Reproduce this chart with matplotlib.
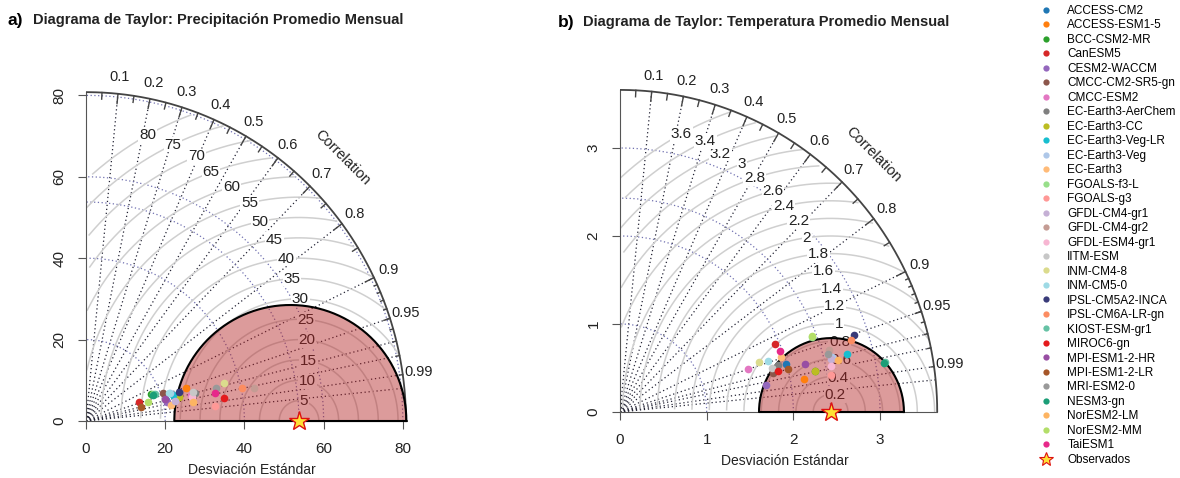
import numpy as np
import matplotlib
matplotlib.use("Agg")
import matplotlib.pyplot as plt
from matplotlib.lines import Line2D

plt.rcParams['font.family'] = ['Liberation Sans', 'DejaVu Sans']

models = ["ACCESS-CM2", "ACCESS-ESM1-5", "BCC-CSM2-MR", "CanESM5", "CESM2-WACCM",
          "CMCC-CM2-SR5-gn", "CMCC-ESM2", "EC-Earth3-AerChem", "EC-Earth3-CC",
          "EC-Earth3-Veg-LR", "EC-Earth3-Veg", "EC-Earth3", "FGOALS-f3-L", "FGOALS-g3",
          "GFDL-CM4-gr1", "GFDL-CM4-gr2", "GFDL-ESM4-gr1", "IITM-ESM", "INM-CM4-8",
          "INM-CM5-0", "IPSL-CM5A2-INCA", "IPSL-CM6A-LR-gn", "KIOST-ESM-gr1", "MIROC6-gn",
          "MPI-ESM1-2-HR", "MPI-ESM1-2-LR", "MRI-ESM2-0", "NESM3-gn", "NorESM2-LM",
          "NorESM2-MM", "TaiESM1"]
colors = ["#1f77b4", "#ff7f0e", "#2ca02c", "#d62728", "#9467bd", "#8c564b", "#e377c2",
          "#7f7f7f", "#bcbd22", "#17becf", "#aec7e8", "#ffbb78", "#98df8a", "#ff9896",
          "#c5b0d5", "#c49c94", "#f7b6d2", "#c7c7c7", "#dbdb8d", "#9edae5", "#393b79",
          "#fc8d62", "#66c2a5", "#e41a1c", "#984ea3", "#a65628", "#999999", "#1b9e77",
          "#fdb462", "#b3de69", "#e7298a"]

pr_x = [20.2, 25.3, 16.5, 13.5, 20.5, 19.5, 26.5, 27.5, 23.4, 22.0, 21.3, 21.5, 17.0, 32.6,
        22.5, 42.4, 26.8, 27.0, 34.8, 21.0, 23.6, 39.3, 17.5, 34.8, 20.0, 13.8, 32.8, 16.8,
        27.1, 15.7, 32.6]
pr_y = [5.2, 8.0, 6.6, 4.7, 4.6, 6.8, 6.5, 6.9, 5.8, 6.5, 6.9, 3.9, 6.7, 3.8,
        5.0, 8.0, 5.8, 7.2, 9.3, 7.0, 7.2, 8.2, 6.6, 5.6, 5.5, 3.5, 8.0, 6.5,
        4.7, 4.7, 6.8]
pr_obs = 53.8
pr_max = 80.8
pr_ticks = [0, 20, 40, 60, 80]
pr_gamma = [5, 10, 15, 20, 25, 30, 35, 40, 45, 50, 55, 60, 65, 70, 75, 80]
pr_zone = (51.6, 29.3, 28.5)

# temperatura
tas_x = [1.92, 2.12, 2.25, 1.79, 1.69, 1.77, 1.48, 1.82, 2.25, 2.62, 2.45, 1.86, 2.21, 2.43,
         2.43, 2.41, 2.43, 1.75, 1.60, 1.71, 2.70, 2.67, 3.06, 1.82, 2.13, 1.94, 2.40, 3.05,
         2.51, 2.21, 1.85]
tas_y = [0.55, 0.38, 0.47, 0.77, 0.31, 0.44, 0.49, 0.53, 0.47, 0.66, 0.62, 0.63, 0.85, 0.42,
         0.60, 0.71, 0.52, 0.50, 0.57, 0.58, 0.88, 0.82, 0.57, 0.47, 0.55, 0.49, 0.66, 0.56,
         0.59, 0.86, 0.69]
tas_obs = 2.43
tas_max = 3.66
tas_ticks = [0, 1, 2, 3]
tas_gamma = [0.2, 0.4, 0.6, 0.8, 1, 1.2, 1.4, 1.6, 1.8, 2, 2.2, 2.4, 2.6, 2.8, 3, 3.2, 3.4, 3.6]
tas_zone = (2.44, 0.836, 0.84)

corr_lines = [0.1, 0.2, 0.3, 0.4, 0.5, 0.6, 0.7, 0.8, 0.9, 0.95, 0.97, 0.98, 0.99, 0.995]
corr_labels = [0.1, 0.2, 0.3, 0.4, 0.5, 0.6, 0.7, 0.8, 0.9, 0.95, 0.99]


def taylor(ax, sx, sy, obs, maxray, ticks, gammas, zone, lim):
    ax.set_xlim(0, lim)
    ax.set_ylim(0, lim)
    ax.patch.set_alpha(0)
    for s in ["top", "right"]:
        ax.spines[s].set_visible(False)
    for s in ["left", "bottom"]:
        ax.spines[s].set_bounds(0, maxray)
        ax.spines[s].set_color("#555555")
    ax.set_xticks(ticks)
    ax.set_yticks(ticks)
    ax.set_xticklabels([str(t) for t in ticks], fontsize=11, color="#222222")
    ax.set_yticklabels([str(t) for t in ticks], fontsize=11, color="#222222",
                       rotation=90, va="center")
    ax.tick_params(length=6, color="#555555")
    ax.tick_params(axis="x", pad=9)
    ax.tick_params(axis="y", pad=8)
    ax.set_xlabel("Desviación Estándar", fontsize=10, color="#222222", labelpad=5)

    # lineas de correlacion
    for c in corr_lines:
        ax.plot([0, maxray * c], [0, maxray * np.sqrt(1 - c * c)], ls=(0, (1, 2.2)),
                color="#222233", lw=0.9, zorder=1)
    # arcos de desviacion estandar
    t = np.linspace(0, np.pi / 2, 100)
    for r in [v for v in ticks if v > 0] + [obs]:
        ax.plot(np.cos(t) * r, np.sin(t) * r, ls=(0, (1, 2)), color="#7070b0",
                lw=0.9, zorder=1)
    # arcos RMS centrados en la observacion
    ang = np.arange(0, np.pi, 0.03)
    lpos = np.floor(np.linspace(45, 70, len(gammas))).astype(int) - 1
    for g, li in zip(gammas, lpos):
        xc = np.cos(ang) * g + obs
        yc = np.sin(ang) * g
        m = (xc >= 0) & (xc ** 2 + yc ** 2 <= maxray ** 2)
        xc = np.where(m, xc, np.nan)
        ax.plot(xc, yc, color="#cfcfcf", lw=1.1, zorder=1)
        if xc[li] > 0:
            ax.text(xc[li], yc[li], "%g" % g, fontsize=11, ha="center", va="center",
                    color="#222222", zorder=2,
                    bbox=dict(fc="white", ec="none", pad=0.5))
    # arco exterior y marcas
    t = np.linspace(0, np.pi / 2, 200)
    ax.plot(np.cos(t) * maxray, np.sin(t) * maxray, color="#444444", lw=1.3, zorder=3)
    for vals, f in [(np.arange(0.1, 0.95, 0.1), 0.97), (np.arange(0.05, 1.0, 0.1), 0.98),
                    (np.arange(0.91, 0.995, 0.01), 0.99)]:
        for aa in np.arccos(vals):
            ax.plot([np.cos(aa) * maxray, np.cos(aa) * maxray * f],
                    [np.sin(aa) * maxray, np.sin(aa) * maxray * f],
                    color="#444444", lw=1, zorder=3)
    for c in corr_labels:
        aa = np.arccos(c)
        ax.text(np.cos(aa) * 1.05 * maxray, np.sin(aa) * 1.05 * maxray, str(c),
                fontsize=10.5, ha="center", va="center", color="#222222", clip_on=False)
    ax.text(0.8 * maxray, 0.8 * maxray, "Correlation", rotation=-45, fontsize=10.5,
            ha="center", va="center", color="#222222")

    # zona sombreada
    cx, rx, ry = zone
    tt = np.linspace(0, np.pi, 200)
    ax.fill(cx + rx * np.cos(tt), ry * np.sin(tt), color="#b22222", alpha=0.45,
            lw=0, zorder=4)
    ax.plot(np.r_[cx + rx * np.cos(tt), cx + rx], np.r_[ry * np.sin(tt), 0],
            color="black", lw=1.5, zorder=4, clip_on=False)

    for x, y, c in zip(sx, sy, colors):
        ax.plot(x, y, "o", ms=5.5, color=c, mec="none", zorder=5, clip_on=False)
    ax.plot(obs, 0, "*", ms=15, mfc="#ffe135", mec="#dd1111", mew=1, zorder=6,
            clip_on=False)


W, H = 1180, 478
fig = plt.figure(figsize=(W / 100, H / 100), dpi=100)

lim1 = 84
ax1 = fig.add_axes([86 / W, (H - 421) / H, lim1 * 3.96 / W, lim1 * 4.07 / H])
taylor(ax1, pr_x, pr_y, pr_obs, pr_max, pr_ticks, pr_gamma, pr_zone, lim1)

lim2 = 3.8
ax2 = fig.add_axes([620 / W, (H - 412) / H, lim2 * 86.67 / W, lim2 * 88 / H])
taylor(ax2, tas_x, tas_y, tas_obs, tas_max, tas_ticks, tas_gamma, tas_zone, lim2)

fig.text(8 / W, 1 - 20 / H, "a)", fontsize=12.5, fontweight="bold", va="center")
fig.text(33 / W, 1 - 20 / H, "Diagrama de Taylor: Precipitación Promedio Mensual",
         fontsize=10.5, fontweight="bold", va="center", color="#222222")
fig.text(558 / W, 1 - 22 / H, "b)", fontsize=12.5, fontweight="bold", va="center")
fig.text(583 / W, 1 - 22 / H, "Diagrama de Taylor: Temperatura Promedio Mensual",
         fontsize=10.5, fontweight="bold", va="center", color="#222222")

handles = [Line2D([], [], marker="o", ls="", ms=4.5, color=c, mec="none") for c in colors]
handles.append(Line2D([], [], marker="*", ls="", ms=10, mfc="#ffe135", mec="#dd1111", mew=0.8))
fig.legend(handles, models + ["Observados"], loc="upper left",
           bbox_to_anchor=(1039 / W, 1 - 5 / H), frameon=False, fontsize=8.5,
           handlelength=1.2, handletextpad=1.2, labelspacing=0.21, borderaxespad=0,
           borderpad=0)

fig.savefig("out.png", dpi=100)
